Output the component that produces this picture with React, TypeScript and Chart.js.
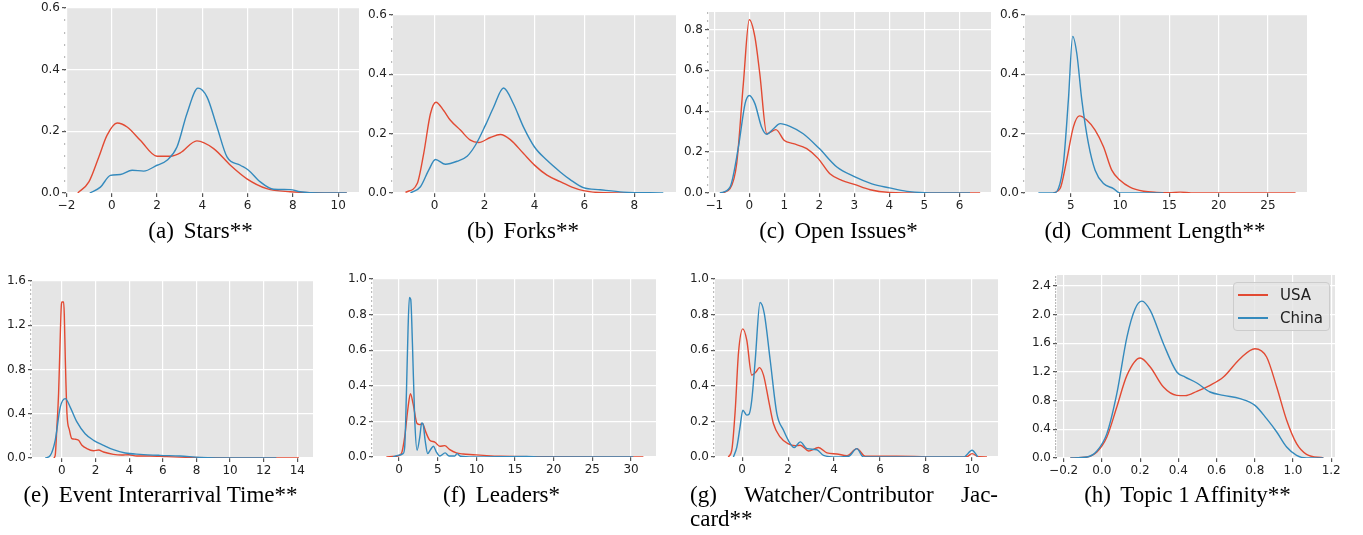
import React, { useEffect, useRef } from "react";
import { Chart, registerables } from "chart.js";
Chart.register(...registerables);

const USA_COLOR = "#E24A33";
const CHINA_COLOR = "#348ABD";
const seriesNames = ["USA", "China"];

// (a) Stars
const starsXTicks = [-2, 0, 2, 4, 6, 8, 10];
const starsYTicks = [0, 0.2, 0.4, 0.6];
const starsUsaX = [-1.5, -1.01, -0.57, -0.21, 0.24, 0.68, 1.26, 2.0, 2.59, 3.03, 3.76, 4.5, 5.24, 5.97, 6.85, 7.88, 9.0, 10.38];
const starsUsaY = [0, 0.036, 0.117, 0.187, 0.227, 0.214, 0.171, 0.119, 0.119, 0.13, 0.169, 0.144, 0.09, 0.046, 0.014, 0.004, 0.001, 0];
const starsChinaX = [-0.97, -0.5, -0.06, 0.38, 0.9, 1.41, 2.0, 2.44, 2.88, 3.32, 3.81, 4.21, 4.65, 5.09, 5.68, 6.04, 6.56, 7.15, 7.88, 8.32, 9.2, 10.38];
const starsChinaY = [0, 0.019, 0.057, 0.06, 0.074, 0.071, 0.09, 0.106, 0.149, 0.257, 0.34, 0.311, 0.214, 0.117, 0.09, 0.074, 0.036, 0.012, 0.011, 0.004, 0, 0];

// (b) Forks
const forksXTicks = [0, 2, 4, 6, 8];
const forksYTicks = [0, 0.2, 0.4, 0.6];
const forksUsaX = [-1.17, -0.7, -0.44, -0.17, 0.05, 0.36, 0.63, 1.03, 1.43, 1.76, 2.23, 2.63, 3.03, 3.56, 4.0, 4.5, 5.03, 5.5, 5.96, 6.76, 8.56];
const forksUsaY = [0.002, 0.032, 0.133, 0.267, 0.306, 0.278, 0.245, 0.212, 0.178, 0.17, 0.187, 0.197, 0.18, 0.133, 0.094, 0.06, 0.038, 0.02, 0.008, 0.001, 0];
const forksChinaX = [-0.97, -0.57, -0.24, 0.03, 0.43, 0.9, 1.3, 1.63, 2.03, 2.36, 2.76, 3.16, 3.56, 4.0, 4.5, 5.03, 5.43, 5.96, 6.63, 7.56, 9.16];
const forksChinaY = [0, 0.021, 0.077, 0.113, 0.097, 0.107, 0.124, 0.161, 0.228, 0.289, 0.354, 0.3, 0.222, 0.155, 0.11, 0.071, 0.045, 0.018, 0.011, 0.003, 0];

// (c) Open Issues
const issuesXTicks = [-1, 0, 1, 2, 3, 4, 5, 6];
const issuesYTicks = [0, 0.2, 0.4, 0.6, 0.8];
const issuesUsaX = [-0.79, -0.55, -0.36, -0.17, 0, 0.16, 0.3, 0.5, 0.76, 1.0, 1.26, 1.64, 1.97, 2.3, 2.64, 3.0, 3.45, 4.0, 4.98, 6.59];
const issuesUsaY = [0, 0.021, 0.143, 0.534, 0.847, 0.763, 0.583, 0.29, 0.31, 0.257, 0.241, 0.217, 0.168, 0.094, 0.062, 0.042, 0.016, 0.003, 0, 0];
const issuesChinaX = [-0.84, -0.55, -0.31, -0.12, 0, 0.16, 0.35, 0.5, 0.69, 0.88, 1.16, 1.54, 2.0, 2.5, 3.0, 3.5, 4.0, 4.5, 5.0, 6.3];
const issuesChinaY = [0, 0.029, 0.225, 0.437, 0.477, 0.437, 0.323, 0.287, 0.314, 0.339, 0.326, 0.29, 0.217, 0.127, 0.08, 0.045, 0.025, 0.008, 0.002, 0];

// (d) Comment Length
const commentXTicks = [5, 10, 15, 20, 25];
const commentYTicks = [0, 0.2, 0.4, 0.6];
const commentUsaX = [3.24, 3.92, 4.59, 5.27, 5.88, 6.62, 7.47, 8.32, 9.16, 10.0, 11.0, 12.4, 13.7, 15.0, 16.1, 17.2, 27.8];
const commentUsaY = [0, 0.015, 0.111, 0.223, 0.26, 0.246, 0.212, 0.156, 0.077, 0.043, 0.02, 0.006, 0.002, 0.001, 0.003, 0, 0];
const commentChinaX = [1.72, 3.24, 3.75, 4.26, 4.76, 5.2, 5.61, 6.12, 6.79, 7.47, 8.32, 9.33, 10.0, 14.4];
const commentChinaY = [0, 0, 0.015, 0.1, 0.314, 0.528, 0.471, 0.314, 0.167, 0.077, 0.032, 0.015, 0, 0];

// (e) Event Interarrival Time
const eventXTicks = [0, 2, 4, 6, 8, 10, 12, 14];
const eventYTicks = [0, 0.4, 0.8, 1.2, 1.6];
const eventUsaX = [-0.49, -0.4, -0.3, -0.2, -0.14, -0.04, 0.0, 0.1, 0.14, 0.2, 0.3, 0.45, 0.59, 0.79, 0.99, 1.19, 1.48, 1.88, 2.18, 2.47, 3.06, 3.56, 3.96, 4.45, 5.24, 6.23, 7.42, 8.5, 10.2, 14.1];
const eventUsaY = [0, 0.024, 0.28, 0.58, 0.885, 1.37, 1.41, 1.41, 1.3, 0.9, 0.4, 0.25, 0.175, 0.17, 0.16, 0.115, 0.085, 0.066, 0.072, 0.054, 0.033, 0.027, 0.03, 0.018, 0.018, 0.012, 0.006, 0.002, 0, 0];
const eventChinaX = [-0.99, -0.69, -0.4, -0.1, 0.2, 0.49, 0.89, 1.38, 1.88, 2.47, 3.06, 3.76, 4.65, 5.83, 7.02, 8.2, 10.2, 12.75];
const eventChinaY = [0, 0.024, 0.16, 0.46, 0.537, 0.46, 0.326, 0.22, 0.16, 0.115, 0.075, 0.045, 0.033, 0.024, 0.018, 0.006, 0, 0];

// (f) Leaders
const leadersXTicks = [0, 5, 10, 15, 20, 25, 30];
const leadersYTicks = [0, 0.2, 0.4, 0.6, 0.8, 1.0];
const leadersUsaX = [-1.64, -0.35, 0.3, 0.73, 1.17, 1.47, 1.81, 2.33, 2.68, 3.02, 3.45, 3.97, 4.62, 5.27, 5.91, 6.56, 7.42, 8.29, 9.58, 10.9, 13.03, 18.2, 31.6];
const leadersUsaY = [0, 0.004, 0.019, 0.113, 0.281, 0.356, 0.3, 0.188, 0.182, 0.188, 0.141, 0.094, 0.084, 0.06, 0.064, 0.041, 0.023, 0.017, 0.013, 0.009, 0.004, 0.002, 0];
const leadersChinaX = [-0.78, -0.13, 0.52, 0.73, 0.95, 1.17, 1.34, 1.51, 1.73, 2.03, 2.33, 2.68, 2.93, 3.11, 3.37, 3.71, 4.06, 4.45, 4.83, 5.27, 5.96, 6.47, 7.2, 7.5, 7.94, 9.6, 16.5, 18.2, 30.3];
const leadersChinaY = [0, 0.009, 0.019, 0.056, 0.356, 0.73, 0.897, 0.885, 0.638, 0.206, 0.038, 0.113, 0.191, 0.184, 0.094, 0.019, 0.041, 0.06, 0.028, 0.006, 0.023, 0.006, 0.006, 0.019, 0.004, 0, 0.003, 0, 0];

// (g) Watcher/Contributor Jaccard
const jaccardXTicks = [0, 2, 4, 6, 8, 10];
const jaccardYTicks = [0, 0.2, 0.4, 0.6, 0.8, 1.0];
const jaccardUsaX = [-0.6, -0.45, -0.3, -0.16, 0.03, 0.2, 0.42, 0.61, 0.75, 0.93, 1.15, 1.36, 1.65, 1.99, 2.31, 2.53, 2.89, 3.32, 3.69, 4.12, 4.56, 4.99, 5.36, 6.73, 8.91, 9.78, 10.0, 10.29, 10.65];
const jaccardUsaY = [0, 0.038, 0.263, 0.583, 0.72, 0.658, 0.46, 0.479, 0.502, 0.46, 0.32, 0.188, 0.113, 0.075, 0.064, 0.066, 0.034, 0.053, 0.023, 0.017, 0.0075, 0.047, 0.004, 0.004, 0, 0.002, 0.019, 0.001, 0];
const jaccardChinaX = [-0.38, -0.23, -0.09, 0.03, 0.2, 0.3, 0.42, 0.57, 0.78, 0.96, 1.22, 1.51, 1.8, 2.09, 2.26, 2.53, 2.82, 3.25, 3.54, 4.12, 4.63, 4.99, 5.28, 9.64, 10.0, 10.25];
const jaccardChinaY = [0, 0.056, 0.169, 0.263, 0.235, 0.24, 0.32, 0.545, 0.868, 0.808, 0.545, 0.244, 0.15, 0.075, 0.053, 0.085, 0.047, 0.041, 0.009, 0, 0.004, 0.047, 0, 0, 0.038, 0];

// (h) Topic 1 Affinity
const topicXTicks = [-0.2, 0, 0.2, 0.4, 0.6, 0.8, 1.0, 1.2];
const topicYTicks = [0, 0.4, 0.8, 1.2, 1.6, 2.0, 2.4];
const topicUsaX = [-0.165, -0.078, -0.026, 0.026, 0.078, 0.131, 0.2, 0.253, 0.322, 0.392, 0.436, 0.497, 0.566, 0.636, 0.723, 0.801, 0.862, 0.915, 0.967, 1.019, 1.071, 1.159];
const topicUsaY = [0, 0.014, 0.084, 0.293, 0.712, 1.153, 1.395, 1.27, 0.99, 0.874, 0.87, 0.93, 1.014, 1.13, 1.386, 1.525, 1.41, 0.99, 0.526, 0.2, 0.051, 0];
const topicChinaX = [-0.165, -0.078, -0.026, 0.026, 0.078, 0.131, 0.174, 0.209, 0.253, 0.322, 0.392, 0.436, 0.497, 0.566, 0.636, 0.723, 0.801, 0.862, 0.915, 0.967, 1.019, 1.071, 1.159];
const topicChinaY = [0, 0.014, 0.098, 0.34, 0.898, 1.688, 2.084, 2.19, 2.06, 1.595, 1.2, 1.13, 1.047, 0.921, 0.874, 0.828, 0.735, 0.549, 0.363, 0.153, 0.037, 0, 0];

const AXIS_W = 44;
const PAD_T = 10;
const PAD_R = 14;
const AXIS_H = 26;

function minorValues(max: number, step: number) {
  const out: number[] = [];
  for (let i = 0; i * step <= max + 1e-9; i++) out.push(+(i * step).toFixed(4));
  return out;
}

type PanelCfg = {
  l: number; t: number; r: number; b: number;
  xMin: number; xMax: number; yMax: number;
  xTicks: number[]; yTicks: number[]; xDec: number; yDec: number; minorStep: number;
  usaX: number[]; usaY: number[]; chinaX: number[]; chinaY: number[];
};

const panels: PanelCfg[] = [
  { l: 66, t: 8, r: 359, b: 193, xMin: -2.02, xMax: 10.92, yMax: 0.6, xTicks: starsXTicks, yTicks: starsYTicks, xDec: 0, yDec: 1, minorStep: 0.04, usaX: starsUsaX, usaY: starsUsaY, chinaX: starsChinaX, chinaY: starsChinaY },
  { l: 393, t: 15, r: 676, b: 193, xMin: -1.67, xMax: 9.67, yMax: 0.6, xTicks: forksXTicks, yTicks: forksYTicks, xDec: 0, yDec: 1, minorStep: 0.04, usaX: forksUsaX, usaY: forksUsaY, chinaX: forksChinaX, chinaY: forksChinaY },
  { l: 709, t: 12, r: 991, b: 193, xMin: -1.15, xMax: 6.9, yMax: 0.885, xTicks: issuesXTicks, yTicks: issuesYTicks, xDec: 0, yDec: 1, minorStep: 0.04, usaX: issuesUsaX, usaY: issuesUsaY, chinaX: issuesChinaX, chinaY: issuesChinaY },
  { l: 1025, t: 15, r: 1307, b: 193, xMin: 0.36, xMax: 28.96, yMax: 0.6, xTicks: commentXTicks, yTicks: commentYTicks, xDec: 0, yDec: 1, minorStep: 0.04, usaX: commentUsaX, usaY: commentUsaY, chinaX: commentChinaX, chinaY: commentChinaY },
  { l: 32, t: 281, r: 313, b: 458, xMin: -1.78, xMax: 14.93, yMax: 1.6, xTicks: eventXTicks, yTicks: eventYTicks, xDec: 0, yDec: 1, minorStep: 0.04, usaX: eventUsaX, usaY: eventUsaY, chinaX: eventChinaX, chinaY: eventChinaY },
  { l: 373, t: 279, r: 656, b: 457, xMin: -3.37, xMax: 33.23, yMax: 1.0, xTicks: leadersXTicks, yTicks: leadersYTicks, xDec: 0, yDec: 1, minorStep: 0.025, usaX: leadersUsaX, usaY: leadersUsaY, chinaX: leadersChinaX, chinaY: leadersChinaY },
  { l: 715, t: 279, r: 998, b: 457, xMin: -1.18, xMax: 11.13, yMax: 1.0, xTicks: jaccardXTicks, yTicks: jaccardYTicks, xDec: 0, yDec: 1, minorStep: 0.025, usaX: jaccardUsaX, usaY: jaccardUsaY, chinaX: jaccardChinaX, chinaY: jaccardChinaY },
  { l: 1057, t: 275, r: 1335, b: 458, xMin: -0.235, xMax: 1.22, yMax: 2.554, xTicks: topicXTicks, yTicks: topicYTicks, xDec: 1, yDec: 1, minorStep: 0.04, usaX: topicUsaX, usaY: topicUsaY, chinaX: topicChinaX, chinaY: topicChinaY },
];

function fmt(v: number, dec: number) {
  const s = Math.abs(v).toFixed(dec);
  return (v < -1e-9 ? "\u2212" : "") + s;
}

function zip(xs: number[], ys: number[]) {
  return xs.map((x, i) => ({ x, y: ys[i] }));
}

const panelPlugin = {
  id: "panelDeco",
  beforeDraw(chart: any) {
    const { ctx, chartArea } = chart;
    ctx.save();
    ctx.fillStyle = "#E5E5E5";
    ctx.fillRect(chartArea.left, chartArea.top, chartArea.right - chartArea.left, chartArea.bottom - chartArea.top);
    ctx.restore();
  },
  afterDraw(chart: any, _args: any, opts: any) {
    const vals: number[] = opts && opts.values ? opts.values : [];
    const s = chart.scales.y;
    const ctx = chart.ctx;
    ctx.save();
    ctx.fillStyle = "#777";
    for (const v of vals) {
      const y = s.getPixelForValue(v);
      ctx.fillRect(chart.chartArea.left - 2, Math.round(y) - 0.5, 1.2, 1);
    }
    ctx.restore();
  },
};

const tickFont = { family: "DejaVu Sans", size: 12 };

function Panel({ cfg }: { cfg: PanelCfg }) {
  const ref = useRef<HTMLCanvasElement>(null);
  const w = cfg.r - cfg.l + AXIS_W + PAD_R;
  const h = cfg.b - cfg.t + PAD_T + AXIS_H;
  useEffect(() => {
    if (!ref.current) return;
    const chart = new Chart(ref.current, {
      type: "line",
      data: {
        datasets: [
          { label: seriesNames[0], data: zip(cfg.usaX, cfg.usaY), borderColor: USA_COLOR, backgroundColor: USA_COLOR, borderWidth: 1.4, pointRadius: 0, cubicInterpolationMode: "monotone", fill: false, order: 2 },
          { label: seriesNames[1], data: zip(cfg.chinaX, cfg.chinaY), borderColor: CHINA_COLOR, backgroundColor: CHINA_COLOR, borderWidth: 1.4, pointRadius: 0, cubicInterpolationMode: "monotone", fill: false, order: 1 },
        ],
      },
      options: {
        animation: false,
        responsive: false,
        devicePixelRatio: 1,
        parsing: false,
        layout: { padding: { top: PAD_T, right: PAD_R, left: 0, bottom: 0 } },
        plugins: {
          legend: { display: false },
          tooltip: { enabled: false },
          panelDeco: { values: minorValues(cfg.yMax, cfg.minorStep) },
        } as any,
        scales: {
          x: {
            type: "linear",
            min: cfg.xMin,
            max: cfg.xMax,
            afterFit: (s: any) => { s.height = AXIS_H; },
            afterBuildTicks: (s: any) => { s.ticks = cfg.xTicks.map((v) => ({ value: v })); },
            ticks: { autoSkip: false, maxRotation: 0, padding: 2, color: "#222", font: tickFont, callback: (v: any) => fmt(Number(v), cfg.xDec) },
            grid: { color: "#FFFFFF", lineWidth: 1.2, tickColor: "#555", tickLength: 4 },
            border: { display: false },
          },
          y: {
            type: "linear",
            min: 0,
            max: cfg.yMax,
            afterFit: (s: any) => { s.width = AXIS_W; },
            afterBuildTicks: (s: any) => { s.ticks = cfg.yTicks.map((v) => ({ value: v })); },
            ticks: { autoSkip: false, padding: 2, color: "#222", font: tickFont, callback: (v: any) => fmt(Number(v), cfg.yDec) },
            grid: { color: "#FFFFFF", lineWidth: 1.2, tickColor: "#555", tickLength: 4 },
            border: { display: false },
          },
        },
      } as any,
      plugins: [panelPlugin as any],
    });
    return () => chart.destroy();
  }, []);
  return (
    <canvas
      ref={ref}
      width={w}
      height={h}
      style={{ position: "absolute", left: cfg.l - AXIS_W, top: cfg.t - PAD_T, width: w, height: h }}
    />
  );
}

const captions = [
  { label: "(a)", title: "Stars**", cx: 200.5, base: 239 },
  { label: "(b)", title: "Forks**", cx: 523, base: 239 },
  { label: "(c)", title: "Open Issues*", cx: 838.5, base: 239 },
  { label: "(d)", title: "Comment Length**", cx: 1155, base: 239 },
  { label: "(e)", title: "Event Interarrival Time**", cx: 160.5, base: 503 },
  { label: "(f)", title: "Leaders*", cx: 501.5, base: 503 },
  { label: "(h)", title: "Topic 1 Affinity**", cx: 1187.5, base: 503 },
];

const capFont: React.CSSProperties = {
  fontFamily: "'Liberation Serif', 'Times New Roman', serif",
  fontSize: 23,
  lineHeight: "24px",
  color: "#000",
  whiteSpace: "nowrap",
  position: "absolute",
};

export default function App() {
  return (
    <div style={{ position: "absolute", left: 0, top: 0, width: 1363, height: 535, background: "#fff", overflow: "hidden" }}>
      {panels.map((p, i) => (
        <Panel key={i} cfg={p} />
      ))}
      {captions.map((c, i) => (
        <div key={i} style={{ ...capFont, left: c.cx - 200, width: 400, top: c.base - 20, textAlign: "center" }}>
          <span style={{ marginRight: 4 }}>{c.label}</span> {c.title}
        </div>
      ))}
      <div style={{ ...capFont, left: 690, width: 308, top: 503 - 20, display: "flex", justifyContent: "space-between" }}>
        <span>(g)</span>
        <span>Watcher/Contributor</span>
        <span>Jac-</span>
      </div>
      <div style={{ ...capFont, left: 690, top: 527 - 20 }}>card**</div>
      <div
        style={{
          position: "absolute",
          left: 1233,
          top: 282,
          width: 95,
          height: 47,
          background: "rgba(229,229,229,0.8)",
          border: "1px solid #CCCCCC",
          borderRadius: 4,
          fontFamily: "'DejaVu Sans', sans-serif",
          fontSize: 15,
          color: "#222",
        }}
      >
        {seriesNames.map((name, i) => (
          <div key={name} style={{ position: "absolute", left: 4, top: 3 + i * 23, height: 18, display: "flex", alignItems: "center" }}>
            <div style={{ width: 30, height: 2, background: i === 0 ? USA_COLOR : CHINA_COLOR, marginRight: 12 }} />
            <span>{name}</span>
          </div>
        ))}
      </div>
    </div>
  );
}
